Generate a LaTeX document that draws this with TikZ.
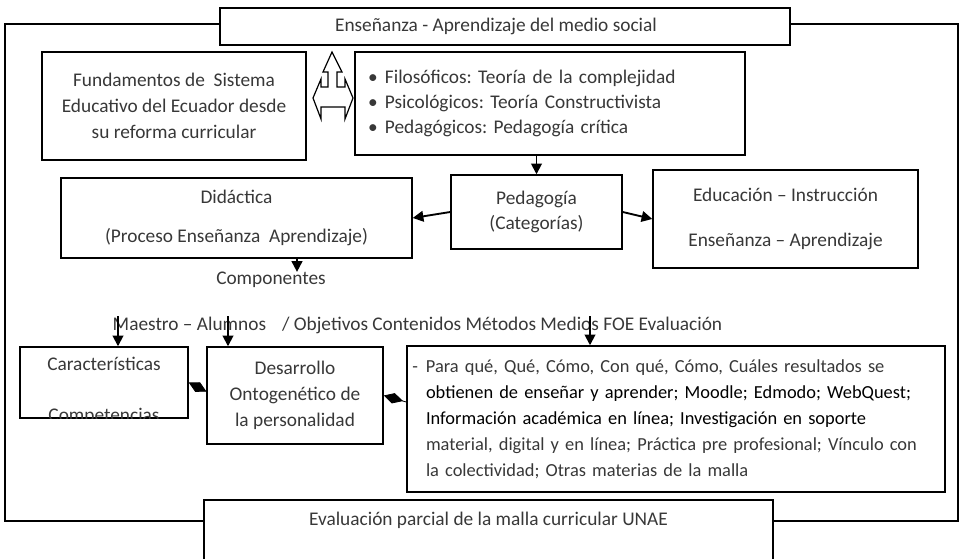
\documentclass[tikz,border=0pt]{standalone}
\usepackage{fontspec}
\setmainfont{Carlito}
\usetikzlibrary{arrows.meta, positioning}
\definecolor{lighttxt}{gray}{0.22}
\frenchspacing
\setlength{\parindent}{0pt}

\tikzset{
  box/.style={draw, line width=1.1pt, fill=white, align=center, text=lighttxt,
    font=\fontsize{14.5}{19.5}\selectfont},
  txt/.style={inner sep=0pt, text=lighttxt, font=\fontsize{14.5}{17.5}\selectfont},
  arr/.style={-{Triangle[length=8pt,width=8pt]}, line width=1.4pt},
  diam/.style={-{Diamond[length=15pt,width=8pt]}, line width=.6pt},
}

\begin{document}
\begin{tikzpicture}[x=0.75pt, y=-0.75pt]
    \clip (0,0) rectangle (963,559);
    % outer frame
    \draw[line width=.8pt] (5,24) rectangle (958,521);

    \node[box, minimum width=427.5pt, minimum height=27.75pt] (top) at (505,26.5)
      {Enseñanza - Aprendizaje del medio social\hspace*{13.5pt}};
    \node[box, minimum width=198pt, minimum height=81pt] (fund) at (174,106)
      {Fundamentos de~ Sistema\\Educativo del Ecuador desde\\su reforma curricular};
    \node[box, align=left, inner xsep=9.75pt, text width=273pt, minimum height=77.25pt,
      font=\fontsize{14.5}{19}\selectfont] (bul) at (550,103.5)
      {\textbullet\hspace{5.5pt}Filosóficos: Teoría de la complejidad\\
       \textbullet\hspace{5.5pt}Psicológicos: Teoría Constructivista\\
       \textbullet\hspace{5.5pt}Pedagógicos: Pedagogía crítica};

    % up / left-right arrow
    \filldraw[fill=white, line width=.9pt] (332,52) -- (342,72) -- (337,72) -- (337,87)
      -- (345,87) -- (345,79) -- (353,98) -- (345,119) -- (345,107) -- (321,107)
      -- (321,119) -- (313,98) -- (321,79) -- (321,87) -- (328,87) -- (328,72)
      -- (323,72) -- cycle;

    \node[box, minimum width=128.25pt, minimum height=55.5pt,
      font=\fontsize{14.5}{18.75}\selectfont] (ped) at (536.5,212) {Pedagogía\\(Categorías)};
    \node[box, minimum width=263.25pt, minimum height=60pt,
      font=\fontsize{14.5}{29.25}\selectfont] (did) at (236.5,218)
      {Didáctica\\(Proceso Enseñanza~~Aprendizaje)};
    \node[box, minimum width=198.75pt, minimum height=73.5pt,
      font=\fontsize{14.5}{33.75}\selectfont] (edu) at (785.5,219)
      {Educación – Instrucción\\Enseñanza – Aprendizaje};

    \node[txt] (comps) at (271,280) {Componentes};
    \node[txt] (list) at (417.5,325)
      {Maestro – Alumnos\hspace{12pt}/ Objetivos Contenidos Métodos Medios FOE Evaluación};

    \node[box, minimum width=126pt, minimum height=53.25pt] (caract) at (104,382.5) {};
    \begin{scope}
      \clip (caract.south west) rectangle (caract.north east);
      \node[txt, align=center, font=\fontsize{14.5}{38.25}\selectfont] (caracttxt)
        at (104,391) {Características\\Competencias};
    \end{scope}
    \node[box, minimum width=132pt, minimum height=72.75pt] (des) at (295,395.5)
      {Desarrollo\\Ontogenético de\\la personalidad};
    \node[box, align=left, inner xsep=14.25pt, text width=375pt, minimum height=109.5pt,
      font=\fontsize{13.8}{19.5}\selectfont] (para) at (676,419)
      {\mbox{\llap{-\hspace{6pt}}Para qué, Qué, Cómo, Con qué, Cómo, Cuáles resultados se}\\
       \mbox{\textcolor{black}{obtienen de enseñar y aprender; Moodle; Edmodo; WebQuest;}}\\
       \mbox{\textcolor{black}{Información académica en línea; Investigación en soporte}}\\
       \mbox{material, digital y en línea; Práctica pre profesional; Vínculo con}\\
       \mbox{la colectividad; Otras materias de la malla}};

    \node[box, anchor=base, inner sep=0pt, minimum width=426.75pt, text height=18.75pt,
      text depth=45pt] (eval) at (488.5,525) {Evaluación parcial de la malla curricular UNAE};

    % connectors
    \draw[arr] (bul.south -| ped.north) -- (ped.north);
    \draw[arr] (ped.west) -- (did.east);
    \draw[arr] (ped.east) -- (edu.west);
    \coordinate (a0) at (297,0);
    \coordinate (a1) at (118,0);
    \coordinate (a2) at (228,0);
    \coordinate (a3) at (590,0);
    \draw[arr] (did.south -| a0) -- (comps.north -| a0);
    \draw[arr] (list.north -| a1) -- (caract.north -| a1);
    \draw[arr] (list.north -| a2) -- (des.north -| a2);
    \draw[arr] (list.north -| a3) -- (para.north -| a3);
    \draw[diam] ([yshift=3pt]des.west) -- (caract.east);
    \draw[diam] ([yshift=12.75pt]para.west) -- (des.east);
\end{tikzpicture}
\end{document}
